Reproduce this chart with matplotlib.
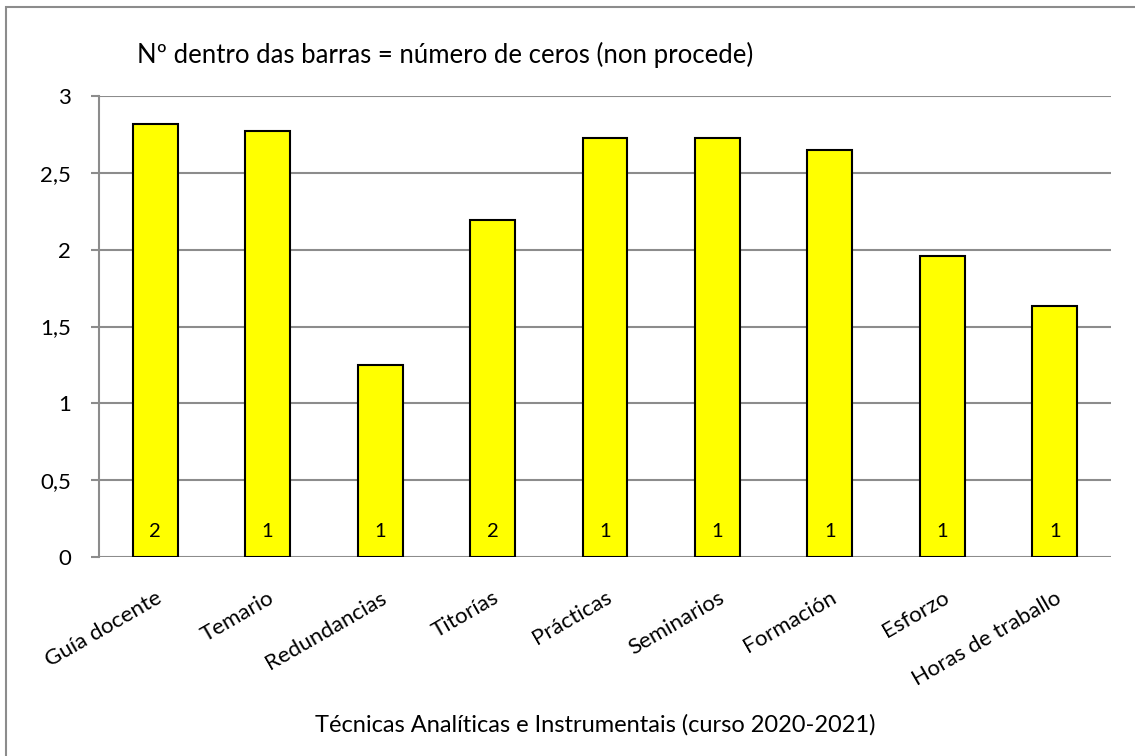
import matplotlib
matplotlib.use("Agg")
import matplotlib.pyplot as plt
from matplotlib.patches import Rectangle

categories = ["Guía docente", "Temario", "Redundancias", "Titorías", "Prácticas",
              "Seminarios", "Formación", "Esforzo", "Horas de traballo"]
values = [2.817, 2.772, 1.249, 2.19, 2.728, 2.728, 2.65, 1.956, 1.635]
zeros = [2, 1, 1, 2, 1, 1, 1, 1, 1]
yticks = [0, 0.5, 1, 1.5, 2, 2.5, 3]
ytick_labels = ["0", "0,5", "1", "1,5", "2", "2,5", "3"]

plt.rcParams['font.family'] = ['Lato', 'DejaVu Sans']

fig = plt.figure(figsize=(11.35, 7.56), dpi=100)
ax = fig.add_axes([99/1135, 1 - 557/756, (1111 - 99)/1135, (557 - 96)/756])

x = list(range(len(categories)))
ax.bar(x, values, width=0.4, color="#FFFF00", edgecolor="black", linewidth=1.5, zorder=3)
for xi, z in zip(x, zeros):
    ax.text(xi, 0.163, str(z), ha="center", va="center", fontsize=14.5, zorder=4)

ax.set_xlim(-0.5, len(categories) - 0.5)
ax.set_ylim(0, 3)
ax.set_yticks(yticks)
ax.set_yticklabels(ytick_labels, fontsize=16)
ax.yaxis.grid(True, color="#8c8c8c", linewidth=1.5, zorder=0)
ax.set_axisbelow(True)
ax.tick_params(axis="y", length=6, width=1.5, color="#8c8c8c", pad=14)
ax.tick_params(axis="x", length=0, pad=22)
ax.set_xticks(x)
ax.set_xticklabels(categories, rotation=30, ha="right", va="top",
                   rotation_mode="anchor", fontsize=16)
for s in ["top", "right", "bottom"]:
    ax.spines[s].set_visible(False)
ax.spines["left"].set_color("#8c8c8c")
ax.spines["left"].set_linewidth(1.5)

fig.text(137/1135, 1 - 55/756, "Nº dentro das barras = número de ceros (non procede)",
         ha="left", va="center", fontsize=18.5)
fig.text(315/1135, 1 - 725/756, "Técnicas Analíticas e Instrumentais (curso 2020-2021)",
         ha="left", va="center", fontsize=17)

fig.patches.append(Rectangle((5.5/1135, -0.1), 1.2, 1 - 6.5/756 + 0.1, transform=fig.transFigure,
                             fill=False, edgecolor="#8c8c8c", linewidth=1.5))

fig.savefig("out.png", dpi=100)
